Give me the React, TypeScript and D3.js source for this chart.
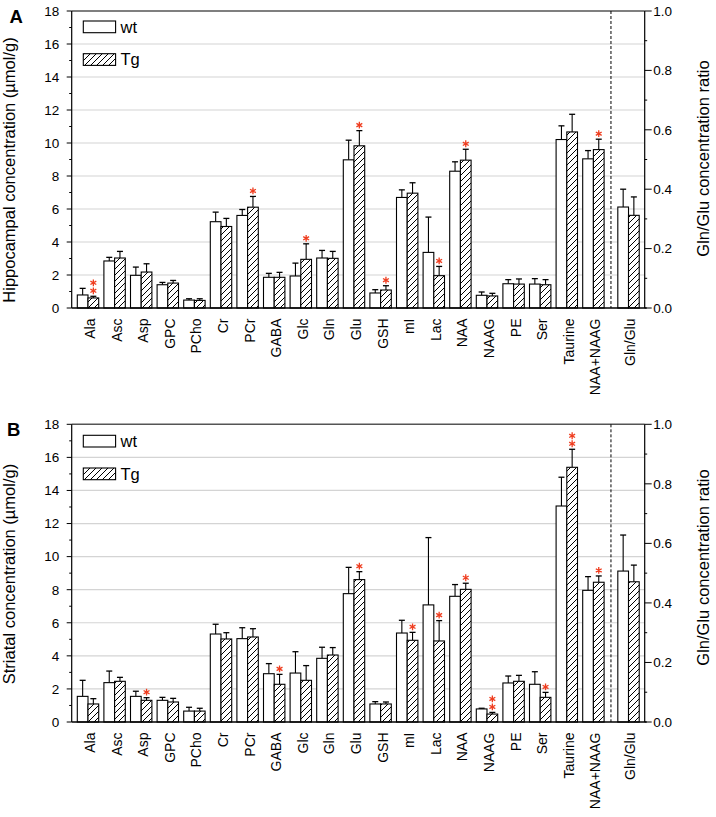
import React from 'react';
import * as d3 from 'd3';

const categories = ["Ala","Asc","Asp","GPC","PCho","Cr","PCr","GABA","Glc","Gln","Glu","GSH","mI","Lac","NAA","NAAG","PE","Ser","Taurine","NAA+NAAG","Gln/Glu"];

// Panel A: hippocampus (last entry = Gln/Glu ratio, right axis)
const hippoWt = [0.79, 2.85, 1.98, 1.41, 0.48, 5.23, 5.61, 1.86, 1.94, 3.03, 8.98, 0.91, 6.70, 3.37, 8.29, 0.77, 1.47, 1.45, 10.21, 9.04, 0.340];
const hippoWtSd = [0.40, 0.22, 0.50, 0.14, 0.08, 0.58, 0.36, 0.24, 0.78, 0.46, 1.19, 0.20, 0.46, 2.14, 0.57, 0.20, 0.25, 0.33, 0.83, 0.50, 0.060];
const hippoTg = [0.61, 3.03, 2.18, 1.51, 0.46, 4.94, 6.11, 1.86, 2.95, 3.01, 9.83, 1.09, 6.96, 1.96, 8.96, 0.73, 1.45, 1.41, 10.67, 9.60, 0.312];
const hippoTgSd = [0.10, 0.40, 0.50, 0.16, 0.10, 0.49, 0.65, 0.30, 0.94, 0.42, 0.92, 0.26, 0.63, 0.56, 0.66, 0.16, 0.31, 0.31, 1.07, 0.63, 0.062];
const hippoStars = [2,0,0,0,0,0,1,0,1,0,1,1,0,1,1,0,0,0,0,1,0];

// Panel B: striatum
const striWt = [1.55, 2.38, 1.55, 1.31, 0.66, 5.32, 5.04, 2.92, 2.96, 3.85, 7.76, 1.09, 5.38, 7.08, 7.60, 0.79, 2.36, 2.28, 13.06, 7.96, 0.507];
const striWtSd = [0.97, 0.70, 0.31, 0.18, 0.23, 0.59, 0.66, 0.61, 1.29, 0.67, 1.59, 0.14, 0.77, 4.07, 0.71, 0.04, 0.42, 0.76, 1.74, 0.83, 0.121];
const striTg = [1.09, 2.46, 1.31, 1.21, 0.66, 5.02, 5.14, 2.28, 2.52, 4.05, 8.61, 1.09, 4.94, 4.90, 8.02, 0.48, 2.46, 1.49, 15.40, 8.45, 0.471];
const striTgSd = [0.32, 0.24, 0.16, 0.22, 0.17, 0.38, 0.50, 0.60, 0.89, 0.45, 0.48, 0.12, 0.48, 1.23, 0.37, 0.10, 0.36, 0.30, 1.09, 0.38, 0.056];
const striStars = [0,0,1,0,0,0,0,1,0,0,1,0,1,1,1,2,0,1,2,1,0];

const leftTicks = [0,2,4,6,8,10,12,14,16,18];
const leftMinor = [1,3,5,7,9,11,13,15,17];
const rightTicks = [0,0.2,0.4,0.6,0.8,1.0];
const rightMinor = [0.1,0.3,0.5,0.7,0.9];

const FONT = "'Liberation Sans', Arial, Helvetica, sans-serif";
const RED = '#ef3d1f';

function starPath(cx: number, cy: number, r: number) {
  const angles = [90, 30, -30];
  return angles.map(a => {
    const rad = a * Math.PI / 180;
    const dx = r * Math.cos(rad), dy = r * Math.sin(rad);
    return `M${cx - dx},${cy - dy}L${cx + dx},${cy + dy}`;
  }).join('');
}

function Panel(props: any) {
  const { letter, top, bottom, title, rightTitle, wt, wtSd, tg, tgSd, stars, letterY, legendOff, titleCenter, rightTitleCenter } = props;
  const plotLeft = 71.7, plotRight = 644.7;
  const y = d3.scaleLinear().domain([0, 18]).range([bottom, top]);
  const yR = d3.scaleLinear().domain([0, 1]).range([bottom, top]);
  const n = categories.length;
  const slot = categories.map((c, i) => (i < n - 1 ? i : i + 0.32));
  const x = d3.scaleLinear().domain([0, 1]).range([77.3, 103.9]);
  const barW = 10.7;
  const ys = (i: number) => (i === n - 1 ? yR : y);
  const dashX = (x(slot[n - 2]) + 2 * barW + x(slot[n - 1])) / 2;

  const bars: any[] = [];
  categories.forEach((c, i) => {
    const sc = ys(i);
    const gx = x(slot[i]);
    [[wt[i], wtSd[i], 0], [tg[i], tgSd[i], 1]].forEach(([v, sd, k]) => {
      const bx = gx + k * barW;
      const cx = bx + barW / 2;
      bars.push(
        <g key={c + k}>
          <line x1={cx} x2={cx} y1={sc(v)} y2={sc(v + sd)} stroke="#000" strokeWidth={1.1} />
          <line x1={cx - 3} x2={cx + 3} y1={sc(v + sd)} y2={sc(v + sd)} stroke="#000" strokeWidth={1.3} />
          <rect x={bx} y={sc(v)} width={barW} height={sc(0) - sc(v)} fill={k === 0 ? '#fff' : 'url(#hatch)'} stroke="#000" strokeWidth={1.1} />
        </g>
      );
    });
    if (stars[i] > 0) {
      const cx = gx + barW * 1.5;
      const topY = sc(tg[i] + tgSd[i]);
      for (let s = 0; s < stars[i]; s++) {
        bars.push(<path key={c + 'star' + s} d={starPath(cx, topY - 5.5 - s * 8, 3.4)} stroke={RED} strokeWidth={1.3} fill="none" />);
      }
    }
  });

  return (
    <g>
      {/* gridlines */}
      {leftTicks.filter(t => t > 0 && t < 18).map(t => (
        <line key={'g' + t} x1={plotLeft} x2={plotRight} y1={y(t)} y2={y(t)} stroke="#d4d4d4" strokeWidth={1.2} />
      ))}
      {/* top border */}
      <line x1={plotLeft} x2={plotRight} y1={top} y2={top} stroke="#555" strokeWidth={1.4} />
      {/* dashed separator */}
      <line x1={dashX} x2={dashX} y1={top} y2={bottom} stroke="#000" strokeWidth={1} strokeDasharray="3,2" />
      {bars}
      {/* axes */}
      <line x1={plotLeft} x2={plotLeft} y1={top} y2={bottom} stroke="#000" strokeWidth={1.2} />
      <line x1={plotRight} x2={plotRight} y1={top} y2={bottom} stroke="#000" strokeWidth={1.2} />
      <line x1={plotLeft} x2={plotRight + 2} y1={bottom} y2={bottom} stroke="#000" strokeWidth={1.4} />
      {leftTicks.map(t => (
        <g key={'lt' + t}>
          <line x1={plotLeft - 5} x2={plotLeft} y1={y(t)} y2={y(t)} stroke="#000" strokeWidth={1} />
          <text x={plotLeft - 12.5} y={y(t)} dy="0.36em" textAnchor="end" fontSize={13.5} fontFamily={FONT}>{t}</text>
        </g>
      ))}
      {leftMinor.map(t => (
        <line key={'lm' + t} x1={plotLeft - 2.5} x2={plotLeft} y1={y(t)} y2={y(t)} stroke="#000" strokeWidth={1} />
      ))}
      {rightTicks.map(t => (
        <g key={'rt' + t}>
          <line x1={plotRight} x2={plotRight + 7} y1={yR(t)} y2={yR(t)} stroke="#000" strokeWidth={1} />
          <text x={plotRight + 8.5} y={yR(t)} dy="0.36em" textAnchor="start" fontSize={13.5} fontFamily={FONT}>{t.toFixed(1)}</text>
        </g>
      ))}
      {rightMinor.map(t => (
        <line key={'rm' + t} x1={plotRight} x2={plotRight + 2.5} y1={yR(t)} y2={yR(t)} stroke="#000" strokeWidth={1} />
      ))}
      {/* category labels */}
      {categories.map((c, i) => {
        const cx = x(slot[i]) + barW + 2;
        const ly = bottom + 10.5;
        return (
          <text key={'cl' + c} transform={`translate(${cx},${ly}) rotate(-90)`} dy="0.35em" textAnchor="end" fontSize={14} fontFamily={FONT}>{c}</text>
        );
      })}
      {/* axis titles */}
      <text transform={`translate(15,${titleCenter}) rotate(-90)`} textAnchor="middle" fontSize={16.5} fontFamily={FONT}>{title}</text>
      <text transform={`translate(709,${rightTitleCenter}) rotate(-90)`} textAnchor="middle" fontSize={16.5} fontFamily={FONT}>{rightTitle}</text>
      {/* panel letter */}
      <text x={letter === 'A' ? 9.5 : 7} y={letterY} fontSize={18.5} fontWeight="bold" fontFamily={FONT}>{letter}</text>
      {/* legend */}
      <rect x={83.3} y={top + legendOff} width={32.3} height={11.7} fill="#fff" stroke="#000" strokeWidth={1.1} />
      <text x={120.5} y={top + legendOff + 11.7} fontSize={16.5} fontFamily={FONT}>wt</text>
      <rect x={83.3} y={top + legendOff + 32.7} width={32.3} height={11.7} fill="url(#hatch)" stroke="#000" strokeWidth={1.1} />
      <text x={120.5} y={top + legendOff + 44.4} fontSize={16.5} fontFamily={FONT}>Tg</text>
    </g>
  );
}

export default function App() {
  return (
    <svg width={716} height={817} style={{ position: 'absolute', left: 0, top: 0, background: '#fff' }} xmlns="http://www.w3.org/2000/svg">
      <defs>
        <pattern id="hatch" patternUnits="userSpaceOnUse" width={6} height={6}>
          <rect width={6} height={6} fill="#fff" />
          <path d="M0,6L6,0M-1.5,1.5L1.5,-1.5M4.5,7.5L7.5,4.5" stroke="#000" strokeWidth={1} />
        </pattern>
      </defs>
      <rect width={716} height={817} fill="#fff" />
      <Panel letter="A" top={11} bottom={308} title="Hippocampal concentration (µmol/g)" rightTitle="Gln/Glu concentration ratio"
        wt={hippoWt} wtSd={hippoWtSd} tg={hippoTg} tgSd={hippoTgSd} stars={hippoStars}
        letterY={22.5} legendOff={10} titleCenter={170} rightTitleCenter={158.5} />
      <Panel letter="B" top={424.3} bottom={722} title="Striatal concentration (µmol/g)" rightTitle="Gln/Glu concentration ratio"
        wt={striWt} wtSd={striWtSd} tg={striTg} tgSd={striTgSd} stars={striStars}
        letterY={435.5} legendOff={11} titleCenter={574} rightTitleCenter={567.5} />
    </svg>
  );
}
